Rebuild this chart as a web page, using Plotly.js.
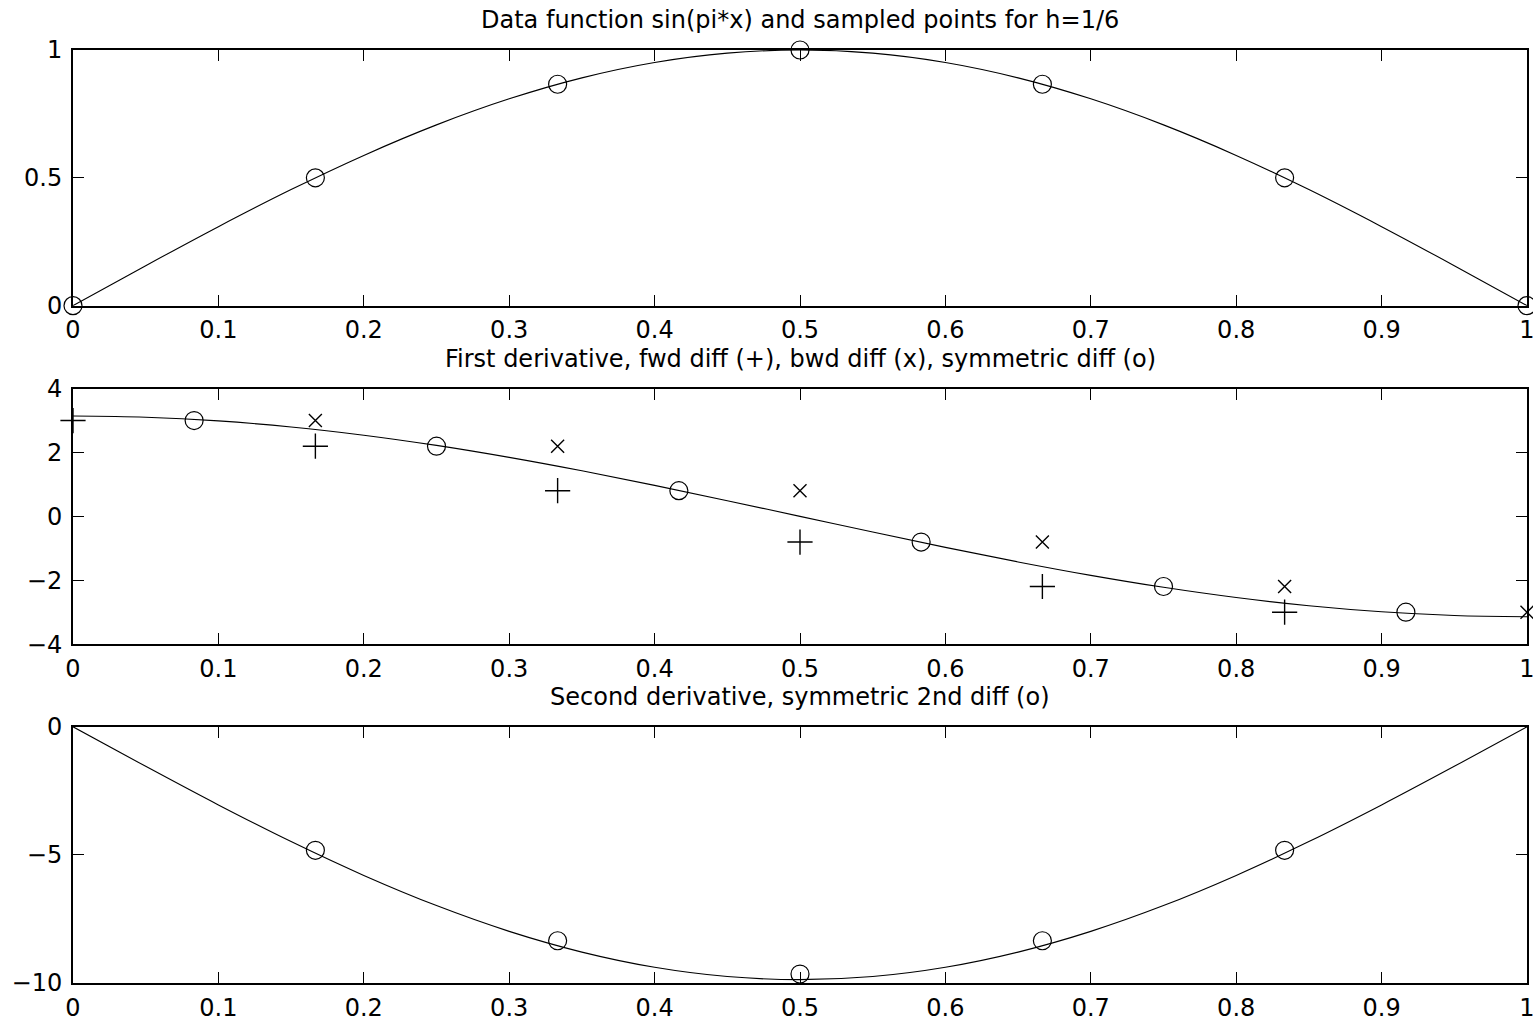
<!DOCTYPE html>
<html><head><meta charset="utf-8">
<script src="https://cdn.plot.ly/plotly-3.0.1.min.js"></script>
<style>html,body{margin:0;padding:0;background:#fff;overflow:hidden}#c{width:1533px;height:1019px}</style>
</head><body><div id="c"></div>
<script>
// Titles
const titles = [
  "Data function sin(pi*x) and sampled points for h=1/6",
  "First derivative, fwd diff (+), bwd diff (x), symmetric diff (o)",
  "Second derivative, symmetric 2nd diff (o)"
];
// Fine grid for the smooth curves
const xFine = [0,0.05,0.1,0.15,0.2,0.25,0.3,0.35,0.4,0.45,0.5,0.55,0.6,0.65,0.7,0.75,0.8,0.85,0.9,0.95,1];
const fCurve = [0,0.1564,0.3090,0.4540,0.5878,0.7071,0.8090,0.8910,0.9511,0.9877,1,0.9877,0.9511,0.8910,0.8090,0.7071,0.5878,0.4540,0.3090,0.1564,0];
const d1Curve = [3.1416,3.1029,2.9878,2.7992,2.5416,2.2214,1.8466,1.4263,0.9708,0.4914,0,-0.4914,-0.9708,-1.4263,-1.8466,-2.2214,-2.5416,-2.7992,-2.9878,-3.1029,-3.1416];
const d2Curve = [0,-1.5439,-3.0499,-4.4806,-5.8012,-6.9789,-7.9847,-8.7938,-9.3866,-9.7481,-9.8696,-9.7481,-9.3866,-8.7938,-7.9847,-6.9789,-5.8012,-4.4806,-3.0499,-1.5439,0];
// Sampled points
const xSample = [0,0.1667,0.3333,0.5,0.6667,0.8333,1];
const ySample = [0,0.5,0.866,1,0.866,0.5,0];
const xFwd = [0,0.1667,0.3333,0.5,0.6667,0.8333];
const yFwd = [3,2.196,0.804,-0.804,-2.196,-3];
const xBwd = [0.1667,0.3333,0.5,0.6667,0.8333,1];
const yBwd = [3,2.196,0.804,-0.804,-2.196,-3];
const xSym = [0.0833,0.25,0.4167,0.5833,0.75,0.9167];
const ySym = [3,2.196,0.804,-0.804,-2.196,-3];
const xSec = [0.1667,0.3333,0.5,0.6667,0.8333];
const ySec = [-4.82,-8.35,-9.65,-8.35,-4.82];
// Tick values
const xTicks = [0,0.1,0.2,0.3,0.4,0.5,0.6,0.7,0.8,0.9,1];
const xTickText = ["0","0.1","0.2","0.3","0.4","0.5","0.6","0.7","0.8","0.9","1"];
const y1Ticks = [0,0.5,1];
const y2Ticks = [-4,-2,0,2,4];
const y3Ticks = [-10,-5,0];

const FONT = "DejaVu Sans, Liberation Sans, Arial, sans-serif";
const FS = 24;
const line = {color:"#000", width:1.1};
const circ = {symbol:"circle-open", size:18, color:"#000", line:{width:1.2, color:"#000"}};
const plus = {symbol:"cross-thin-open", size:18, color:"#000", line:{width:1.4, color:"#000"}};
const xm = {symbol:"x-thin-open", size:13, color:"#000", line:{width:1.4, color:"#000"}};

const data = [
  {x:xFine, y:fCurve, mode:"lines", line:Object.assign({shape:"spline"},line), xaxis:"x", yaxis:"y", cliponaxis:false},
  {x:xSample, y:ySample, mode:"markers", marker:circ, xaxis:"x", yaxis:"y", cliponaxis:false},
  {x:xFine, y:d1Curve, mode:"lines", line:Object.assign({shape:"spline"},line), xaxis:"x2", yaxis:"y2", cliponaxis:false},
  {x:xFwd, y:yFwd, mode:"markers", marker:plus, xaxis:"x2", yaxis:"y2", cliponaxis:false},
  {x:xBwd, y:yBwd, mode:"markers", marker:xm, xaxis:"x2", yaxis:"y2", cliponaxis:false},
  {x:xSym, y:ySym, mode:"markers", marker:circ, xaxis:"x2", yaxis:"y2", cliponaxis:false},
  {x:xFine, y:d2Curve, mode:"lines", line:Object.assign({shape:"spline"},line), xaxis:"x3", yaxis:"y3", cliponaxis:false},
  {x:xSec, y:ySec, mode:"markers", marker:circ, xaxis:"x3", yaxis:"y3", cliponaxis:false}
];

function xax(anchor){
  return {anchor:anchor, range:[0,1], tickmode:"array", tickvals:xTicks, ticktext:xTickText,
    ticks:"inside", ticklen:11, tickwidth:1, tickcolor:"#000", showline:true, linewidth:2, linecolor:"#000",
    mirror:"ticks", showgrid:false, zeroline:false, ticklabeloverflow:"allow",
    tickfont:{family:FONT, size:FS, color:"#000"}, ticklabelstandoff:2};
}
function yax(anchor, range, ticks, dom){
  return {anchor:anchor, domain:dom, range:range, tickmode:"array", tickvals:ticks,
    ticks:"inside", ticklen:11, tickwidth:1, tickcolor:"#000", showline:true, linewidth:2, linecolor:"#000",
    mirror:"ticks", showgrid:false, zeroline:false, ticklabeloverflow:"allow",
    tickfont:{family:FONT, size:FS, color:"#000"}, ticklabelstandoff:4};
}

const layout = {
  width:1533, height:1019, showlegend:false,
  paper_bgcolor:"#fff", plot_bgcolor:"#fff",
  margin:{l:73, r:6, t:50, b:36},
  font:{family:FONT, color:"#000"},
  xaxis:xax("y"), xaxis2:xax("y2"), xaxis3:xax("y3"),
  yaxis:yax("x",[0,1],y1Ticks,[0.7260,1]),
  yaxis2:yax("x2",[-4,4],y2Ticks,[0.3632,0.6371]),
  yaxis3:yax("x3",[-10,0],y3Ticks,[0,0.2746]),
  annotations:[
    {text:titles[0], xref:"paper", yref:"paper", x:0.5, y:1, yanchor:"bottom", yshift:14, showarrow:false, font:{family:FONT,size:FS,color:"#000"}},
    {text:titles[1], xref:"paper", yref:"paper", x:0.5, y:0.6371, yanchor:"bottom", yshift:14, showarrow:false, font:{family:FONT,size:FS,color:"#000"}},
    {text:titles[2], xref:"paper", yref:"paper", x:0.5, y:0.2746, yanchor:"bottom", yshift:14, showarrow:false, font:{family:FONT,size:FS,color:"#000"}}
  ]
};
Plotly.newPlot("c", data, layout, {displayModeBar:false, staticPlot:true});
</script></body></html>
